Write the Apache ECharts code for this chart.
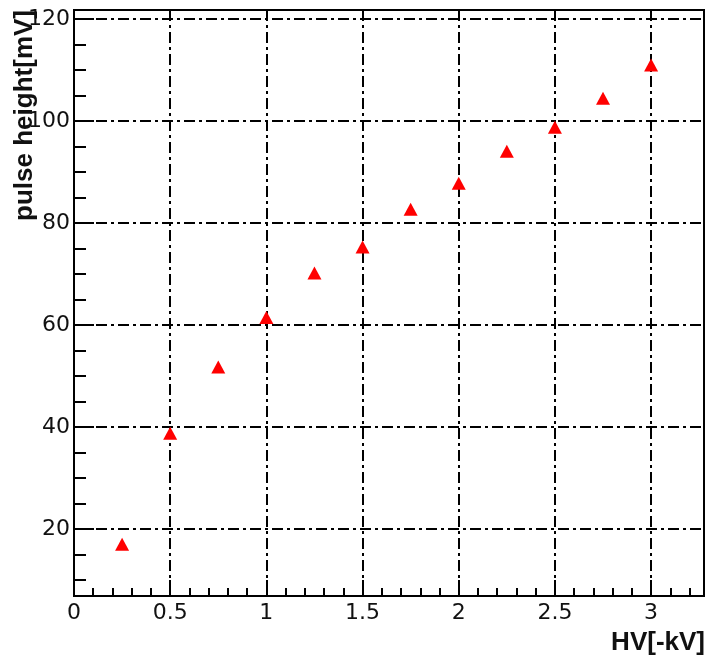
<!DOCTYPE html>
<html>
<head>
<meta charset="utf-8">
<title>pulse height vs HV</title>
<script src="https://cdn.jsdelivr.net/npm/echarts@6/dist/echarts.min.js"></script>
<style>
  html, body { margin: 0; padding: 0; background: #fff; }
  #chart { width: 708px; height: 659px; }
</style>
</head>
<body>
<div id="chart"></div>
<script>
// Measured points: high voltage [-kV] and pulse height [mV]
const hvValues = [0.25, 0.5, 0.75, 1.0, 1.25, 1.5, 1.75, 2.0, 2.25, 2.5, 2.75, 3.0];
const pulseHeights = [17.0, 38.8, 51.8, 61.5, 70.2, 75.3, 82.7, 87.8, 94.1, 98.8, 104.5, 111.0];

// Axis ranges and tick positions
const xRange = [0, 3.275];
const yRange = [6.87, 121.8];
const xMajorTicks = [0, 0.5, 1, 1.5, 2, 2.5, 3];
const xMinorTicks = [0.1, 0.2, 0.3, 0.4, 0.6, 0.7, 0.8, 0.9, 1.1, 1.2, 1.3, 1.4,
  1.6, 1.7, 1.8, 1.9, 2.1, 2.2, 2.3, 2.4, 2.6, 2.7, 2.8, 2.9, 3.1, 3.2];
const yMajorTicks = [20, 40, 60, 80, 100, 120];
const yMinorTicks = [10, 15, 25, 30, 35, 45, 50, 55, 65, 70, 75, 85, 90, 95, 105, 110, 115];

const xTitle = 'HV[-kV]';
const yTitle = 'pulse height[mV]';

const chart = echarts.init(document.getElementById('chart'), null, { renderer: 'canvas' });

const labelFont = { fontFamily: 'DejaVu Sans', fontSize: 22, color: '#111' };
const titleFont = { fontFamily: 'Liberation Sans', fontWeight: 'bold', fontSize: 26, fill: '#111' };
const gridDash = { color: '#000', width: 2, type: [11, 4, 3, 4] };

chart.setOption({
  animation: false,
  backgroundColor: '#fff',
  grid: {
    left: 74, right: 4, top: 10, bottom: 63,
    show: true, borderColor: '#000', borderWidth: 2, backgroundColor: 'transparent'
  },
  xAxis: [
    {
      type: 'value', min: xRange[0], max: xRange[1], position: 'bottom',
      axisLine: { show: true, onZero: false, lineStyle: { color: '#000', width: 2 } },
      axisTick: { show: true, inside: true, length: 16, customValues: xMajorTicks,
        lineStyle: { color: '#000', width: 2 } },
      axisLabel: Object.assign({ customValues: xMajorTicks, margin: 6 }, labelFont),
      splitLine: { show: true, lineStyle: gridDash }
    },
    {
      type: 'value', min: xRange[0], max: xRange[1], position: 'bottom',
      axisLine: { show: false },
      axisTick: { show: true, inside: true, length: 8, customValues: xMinorTicks,
        lineStyle: { color: '#000', width: 2 } },
      axisLabel: { show: false },
      splitLine: { show: false }
    }
  ],
  yAxis: [
    {
      type: 'value', min: yRange[0], max: yRange[1], position: 'left',
      axisLine: { show: true, onZero: false, lineStyle: { color: '#000', width: 2 } },
      axisTick: { show: true, inside: true, length: 20, customValues: yMajorTicks,
        lineStyle: { color: '#000', width: 2 } },
      axisLabel: Object.assign({ customValues: yMajorTicks, margin: 4 }, labelFont),
      splitLine: { show: true, lineStyle: gridDash }
    },
    {
      type: 'value', min: yRange[0], max: yRange[1], position: 'left',
      axisLine: { show: false },
      axisTick: { show: true, inside: true, length: 12, customValues: yMinorTicks,
        lineStyle: { color: '#000', width: 2 } },
      axisLabel: { show: false },
      splitLine: { show: false }
    }
  ],
  series: [
    {
      type: 'scatter',
      xAxisIndex: 0,
      yAxisIndex: 0,
      symbol: 'triangle',
      symbolSize: [14, 13],
      itemStyle: { color: '#ff0000', opacity: 1 },
      data: hvValues.map((hv, i) => [hv, pulseHeights[i]])
    }
  ],
  graphic: [
    {
      type: 'text', x: 705, y: 643,
      style: Object.assign({ text: xTitle, align: 'right', verticalAlign: 'middle' }, titleFont)
    },
    {
      type: 'text', x: 25, y: 10, rotation: Math.PI / 2,
      style: Object.assign({ text: yTitle, align: 'right', verticalAlign: 'middle' }, titleFont)
    }
  ]
});
</script>
</body>
</html>
